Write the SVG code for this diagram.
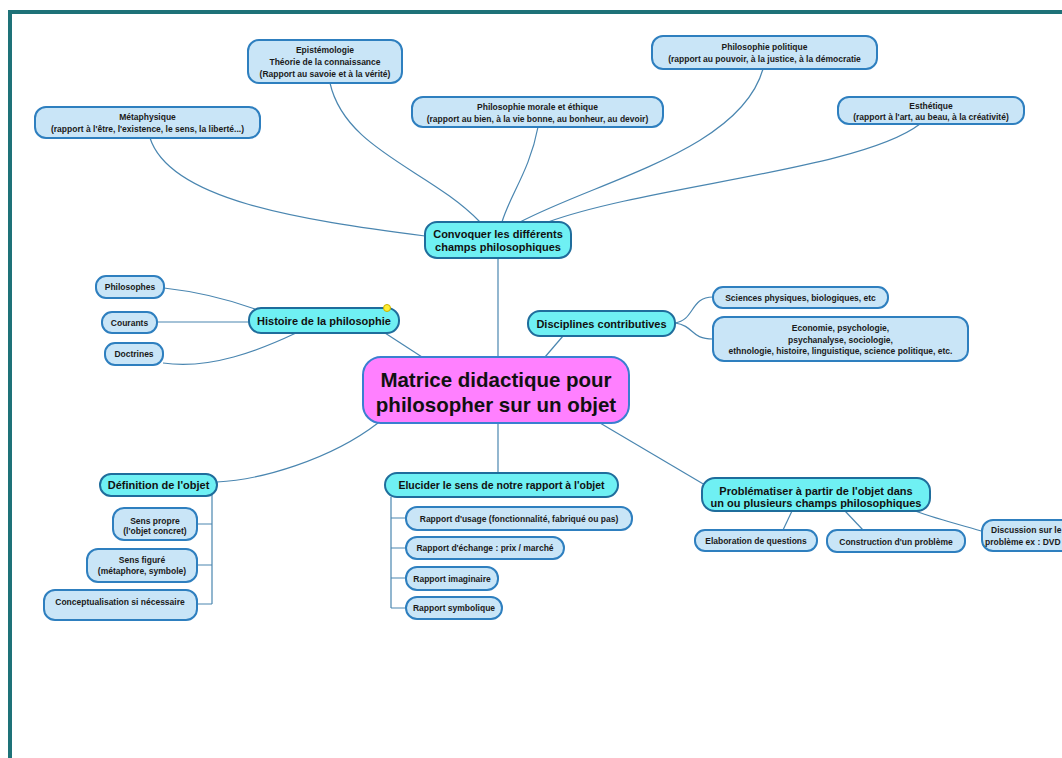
<svg xmlns="http://www.w3.org/2000/svg" width="1062" height="758" viewBox="0 0 1062 758">
<style>
.sub rect{fill:#c9e5f7;stroke:#2e7fbf;stroke-width:2}
.main rect{fill:#6ff0f3;stroke:#1f6d9c;stroke-width:2}
.sub text{font-family:"Liberation Sans",Arial,sans-serif;font-weight:bold;font-size:8.5px;fill:#1a1a1a;text-anchor:middle}
.main text{font-family:"Liberation Sans",Arial,sans-serif;font-weight:bold;font-size:11px;fill:#111;text-anchor:middle}
.central rect{fill:#ff80ff;stroke:#3a7fd0;stroke-width:2}
.central text{font-family:"Liberation Sans",Arial,sans-serif;font-weight:bold;font-size:20.5px;fill:#111;text-anchor:middle}
#connectors path{fill:none;stroke:#4a86b0;stroke-width:1.2}
</style>
<rect width="1062" height="758" fill="#ffffff"/>
<path d="M10,758 V12 H1062" fill="none" stroke="#1e7278" stroke-width="4"/>

<g id="connectors">
<path d="M150,138 C170,200 300,220 425,236"/>
<path d="M330,83 C345,150 430,170 480,222"/>
<path d="M538,127 C530,170 510,195 502,222"/>
<path d="M763,69 C740,150 600,180 520,222"/>
<path d="M920,124 C860,170 650,185 548,222"/>
<path d="M498,258 L498,357"/>
<path d="M385,333 L422,357"/>
<path d="M164,288 C200,292 230,300 255,309"/>
<path d="M157,322 L249,322"/>
<path d="M163,363 C210,370 260,350 296,333"/>
<path d="M563,336 L545,357"/>
<path d="M675,323 C695,320 690,297 713,297"/>
<path d="M675,323 C695,326 690,339 713,339"/>
<path d="M378,423 C330,460 260,480 217,482"/>
<path d="M498,423 L498,473"/>
<path d="M600,423 L705,485"/>
<path d="M792,511 L783,530"/>
<path d="M845,511 L863,530"/>
<path d="M915,511 C940,520 965,526 985,532"/>
<path d="M212,493 V604 M197,524 H212 M197,565 H212 M197,604 H212"/>
<path d="M391,497 V608 M391,518 H406 M391,548 H406 M391,578 H406 M391,608 H406"/>
</g>

<g id="n-episte" class="sub"><rect x="248" y="40" width="154" height="43" rx="11"/>
<text x="325" y="53">Epistémologie</text><text x="325" y="65">Théorie de la connaissance</text><text x="325" y="77">(Rapport au savoie et à la vérité)</text></g>
<g id="n-meta" class="sub"><rect x="35" y="107" width="225" height="31" rx="11"/>
<text x="147.5" y="120">Métaphysique</text><text x="147.5" y="132">(rapport à l'être, l'existence, le sens, la liberté...)</text></g>
<g id="n-morale" class="sub"><rect x="412" y="97" width="251" height="30" rx="11"/>
<text x="537.5" y="110">Philosophie morale et éthique</text><text x="537.5" y="122">(rapport au bien, à la vie bonne, au bonheur, au devoir)</text></g>
<g id="n-politique" class="sub"><rect x="652" y="36" width="225" height="33" rx="11"/>
<text x="764.5" y="50">Philosophie politique</text><text x="764.5" y="62">(rapport au pouvoir, à la justice, à la démocratie</text></g>
<g id="n-esthetique" class="sub"><rect x="838" y="97" width="186" height="27" rx="11"/>
<text x="931" y="109">Esthétique</text><text x="931" y="120">(rapport à l'art, au beau, à la créativité)</text></g>

<g id="n-convoquer" class="main"><rect x="425" y="222" width="146" height="36" rx="12"/>
<text x="498" y="238">Convoquer les différents</text><text x="498" y="251">champs philosophiques</text></g>

<g id="n-histoire" class="main"><rect x="249" y="308" width="150" height="25" rx="12"/>
<text x="324" y="324.5">Histoire de la philosophie</text></g>
<circle cx="387" cy="308" r="3.5" fill="#ffee33" stroke="#c8b000" stroke-width="1"/>
<g id="n-philosophes" class="sub"><rect x="96" y="276" width="68" height="22" rx="10"/><text x="130" y="290">Philosophes</text></g>
<g id="n-courants" class="sub"><rect x="102" y="312" width="55" height="21" rx="10"/><text x="129.5" y="325.5">Courants</text></g>
<g id="n-doctrines" class="sub"><rect x="105" y="343" width="58" height="22" rx="10"/><text x="134" y="357">Doctrines</text></g>

<g id="n-disciplines" class="main"><rect x="528" y="311" width="147" height="25" rx="12"/>
<text x="601.5" y="327.5">Disciplines contributives</text></g>
<g id="n-sciences" class="sub"><rect x="713" y="287" width="175" height="21" rx="10"/><text x="800.5" y="300.5">Sciences physiques, biologiques, etc</text></g>
<g id="n-economie" class="sub"><rect x="713" y="317" width="255" height="44" rx="11"/>
<text x="840.5" y="331">Economie, psychologie,</text><text x="840.5" y="343">psychanalyse, sociologie,</text><text x="840.5" y="354">ethnologie, histoire, linguistique, science politique, etc.</text></g>

<g id="n-central" class="central"><rect x="363" y="357" width="266" height="66" rx="18"/>
<text x="496" y="386.5">Matrice didactique pour</text><text x="496" y="412">philosopher sur un objet</text></g>

<g id="n-definition" class="main"><rect x="100" y="474" width="117" height="22" rx="11"/><text x="158.5" y="489">Définition de l'objet</text></g>
<g id="n-sens-propre" class="sub"><rect x="113" y="508" width="84" height="32" rx="11"/>
<text x="155" y="524">Sens propre</text><text x="155" y="534">(l'objet concret)</text></g>
<g id="n-sens-figure" class="sub"><rect x="87" y="549" width="110" height="33" rx="11"/>
<text x="142" y="563">Sens figuré</text><text x="142" y="574">(métaphore, symbole)</text></g>
<g id="n-concept" class="sub"><rect x="44" y="590" width="153" height="30" rx="11"/><text x="120" y="605">Conceptualisation si nécessaire</text></g>

<g id="n-elucider" class="main"><rect x="385" y="473" width="233" height="24" rx="12"/><text x="501.5" y="489" style="font-size:10.5px">Elucider le sens de notre rapport à l'objet</text></g>
<g id="n-usage" class="sub"><rect x="406" y="507" width="226" height="23" rx="11"/><text x="519" y="521.5">Rapport d'usage (fonctionnalité, fabriqué ou pas)</text></g>
<g id="n-echange" class="sub"><rect x="406" y="537" width="158" height="22" rx="11"/><text x="485" y="551">Rapport d'échange : prix / marché</text></g>
<g id="n-imaginaire" class="sub"><rect x="406" y="567" width="92" height="23" rx="11"/><text x="452" y="581.5">Rapport imaginaire</text></g>
<g id="n-symbolique" class="sub"><rect x="406" y="597" width="96" height="22" rx="11"/><text x="454" y="611">Rapport symbolique</text></g>

<g id="n-problematiser" class="main"><rect x="702" y="478" width="228" height="33" rx="13"/>
<text x="816" y="495">Problématiser à partir de l'objet dans</text><text x="816" y="507">un ou plusieurs champs philosophiques</text></g>
<g id="n-elaboration" class="sub"><rect x="695" y="530" width="122" height="21" rx="10"/><text x="756" y="544">Elaboration de questions</text></g>
<g id="n-construction" class="sub"><rect x="827" y="530" width="138" height="22" rx="10"/><text x="896" y="544.5">Construction d'un problème</text></g>
<g id="n-discussion" class="sub"><rect x="982" y="520" width="110" height="31" rx="11"/>
<text x="991" y="533" style="text-anchor:start">Discussion sur le</text><text x="985" y="545" style="text-anchor:start">problème ex : DVD</text></g>
</svg>
